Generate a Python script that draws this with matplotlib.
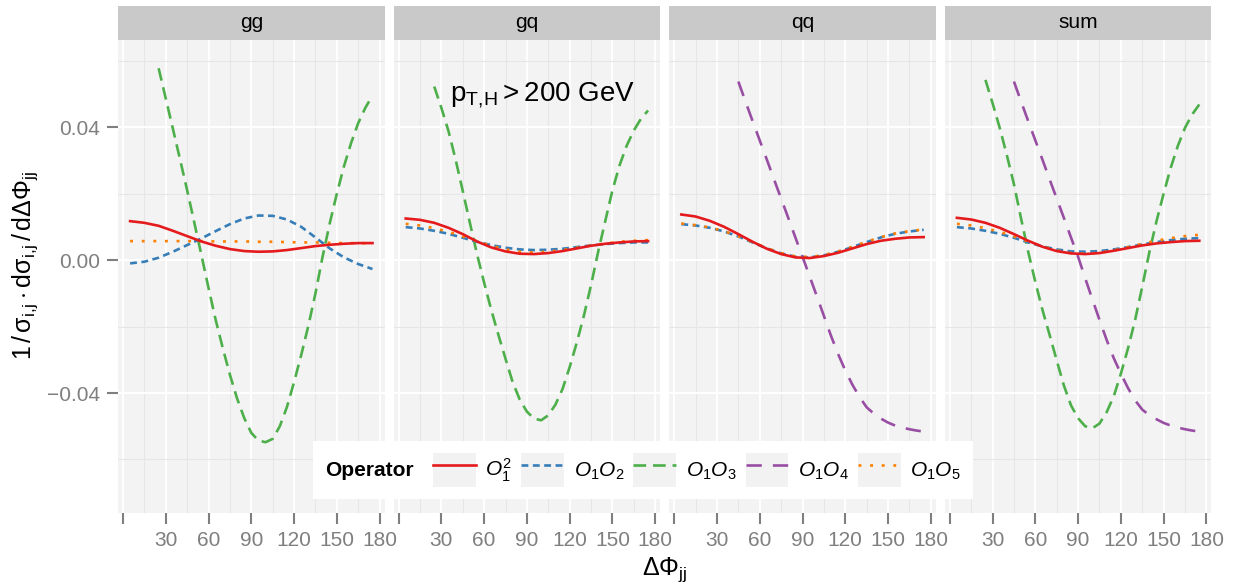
import matplotlib
matplotlib.use("Agg")
import matplotlib.pyplot as plt
from matplotlib.lines import Line2D
from matplotlib.patches import Rectangle
from matplotlib.legend_handler import HandlerLine2D
from matplotlib.offsetbox import HPacker, DrawingArea

plt.rcParams['font.family'] = ['Liberation Sans', 'DejaVu Sans']
plt.rcParams['mathtext.fontset'] = 'custom'
plt.rcParams['mathtext.rm'] = 'Liberation Sans'
plt.rcParams['mathtext.it'] = 'Liberation Sans:italic'
plt.rcParams['mathtext.bf'] = 'Liberation Sans:bold'

# bin centres of Delta Phi_jj (degrees)
phi = [5, 15, 25, 35, 45, 55, 65, 75, 85, 95, 105, 115, 125, 135, 145, 155, 165, 175]
phi_o13 = [25, 30, 35, 40, 45, 50, 55, 60, 65, 70, 75, 80, 85, 90, 95, 100,
           105, 110, 115, 120, 125, 130, 135, 140, 145, 150, 155, 160, 165, 170, 175]
phi_o14 = [45, 50, 55, 60, 65, 70, 75, 80, 85, 90, 95, 100, 105, 110, 115,
           120, 125, 130, 135, 140, 145, 150, 155, 160, 165, 170, 175]

panels = ['gg', 'gq', 'qq', 'sum']
operators = ['O11', 'O12', 'O13', 'O14', 'O15']
op_labels = [r'$O_1^2$', r'$O_1O_2$', r'$O_1O_3$', r'$O_1O_4$', r'$O_1O_5$']

# gg
gg_o11 = [0.0117, 0.0112, 0.0103, 0.0088, 0.0072, 0.0056, 0.0043, 0.0033, 0.0027,
          0.0025, 0.0026, 0.0030, 0.0036, 0.0042, 0.0046, 0.0049, 0.0051, 0.0051]
gg_o12 = [-0.0010, -0.0005, 0.0007, 0.0025, 0.0045, 0.0065, 0.0087, 0.0108, 0.0125,
          0.0134, 0.0133, 0.0122, 0.0100, 0.0068, 0.0035, 0.0008, -0.0012, -0.0027]
gg_o13 = [0.0577, 0.0486, 0.0395, 0.0303, 0.0210, 0.0113, 0.0015, -0.0084, -0.0180,
          -0.0265, -0.0345, -0.0416, -0.0475, -0.0520, -0.0543, -0.0548, -0.0538,
          -0.0500, -0.0442, -0.0367, -0.0286, -0.0198, -0.0100, 0.0010, 0.0110,
          0.0200, 0.0282, 0.0352, 0.0412, 0.0458, 0.0495]
gg_o15 = [0.0057, 0.0057, 0.0057, 0.0057, 0.0057, 0.0057, 0.0056, 0.0056, 0.0056,
          0.0055, 0.0055, 0.0054, 0.0053, 0.0053, 0.0052, 0.0051, 0.0051, 0.0050]

# gq
gq_o11 = [0.0125, 0.0121, 0.0112, 0.0097, 0.0078, 0.0056, 0.0038, 0.0026, 0.0019,
          0.0018, 0.0021, 0.0027, 0.0035, 0.0043, 0.0049, 0.0053, 0.0056, 0.0057]
gq_o12 = [0.0099, 0.0095, 0.0088, 0.0079, 0.0067, 0.0055, 0.0045, 0.0037, 0.0032,
          0.0030, 0.0031, 0.0034, 0.0039, 0.0044, 0.0048, 0.0051, 0.0053, 0.0053]
gq_o13 = [0.0522, 0.0458, 0.0388, 0.0302, 0.0208, 0.0112, 0.0018, -0.0068, -0.0150,
          -0.0225, -0.0297, -0.0367, -0.0420, -0.0456, -0.0477, -0.0482, -0.0467,
          -0.0435, -0.0388, -0.0322, -0.0248, -0.0167, -0.0075, 0.0025, 0.0118,
          0.0210, 0.0285, 0.0344, 0.0390, 0.0425, 0.0450]
gq_o15 = [0.0109, 0.0104, 0.0096, 0.0085, 0.0071, 0.0057, 0.0043, 0.0032, 0.0025,
          0.0023, 0.0025, 0.0030, 0.0037, 0.0044, 0.0050, 0.0055, 0.0058, 0.0060]

# qq
qq_o11 = [0.0137, 0.0131, 0.0118, 0.0100, 0.0078, 0.0055, 0.0034, 0.0018, 0.0008,
          0.0006, 0.0012, 0.0022, 0.0035, 0.0048, 0.0058, 0.0064, 0.0068, 0.0069]
qq_o12 = [0.0108, 0.0104, 0.0097, 0.0086, 0.0071, 0.0053, 0.0035, 0.0020, 0.0010,
          0.0008, 0.0014, 0.0025, 0.0039, 0.0054, 0.0068, 0.0079, 0.0086, 0.0091]
qq_o14 = [0.0537, 0.0477, 0.0418, 0.0360, 0.0302, 0.0243, 0.0185, 0.0127, 0.0068,
          0.0010, -0.0049, -0.0108, -0.0168, -0.0228, -0.0283, -0.0332, -0.0375,
          -0.0412, -0.0443, -0.0462, -0.0477, -0.0489, -0.0498, -0.0504, -0.0509,
          -0.0513, -0.0516]
qq_o15 = [0.0110, 0.0105, 0.0098, 0.0087, 0.0072, 0.0054, 0.0036, 0.0021, 0.0011,
          0.0009, 0.0015, 0.0026, 0.0040, 0.0055, 0.0069, 0.0080, 0.0087, 0.0092]

# sum
sum_o11 = [0.0127, 0.0122, 0.0112, 0.0097, 0.0078, 0.0058, 0.0040, 0.0027, 0.0020,
           0.0018, 0.0021, 0.0028, 0.0036, 0.0044, 0.0050, 0.0054, 0.0057, 0.0058]
sum_o12 = [0.0099, 0.0095, 0.0088, 0.0079, 0.0067, 0.0053, 0.0041, 0.0032, 0.0026,
           0.0025, 0.0027, 0.0032, 0.0039, 0.0047, 0.0054, 0.0060, 0.0064, 0.0066]
sum_o13 = [0.0542, 0.0472, 0.0398, 0.0316, 0.0228, 0.0125, 0.0025, -0.0066, -0.0150,
           -0.0225, -0.0302, -0.0377, -0.0437, -0.0476, -0.0500, -0.0506, -0.0492,
           -0.0458, -0.0410, -0.0342, -0.0266, -0.0180, -0.0080, 0.0024, 0.0117,
           0.0200, 0.0278, 0.0344, 0.0398, 0.0438, 0.0468]
sum_o14 = [0.0537, 0.0477, 0.0418, 0.0360, 0.0302, 0.0243, 0.0185, 0.0127, 0.0068,
           0.0010, -0.0055, -0.0118, -0.0180, -0.0240, -0.0295, -0.0342, -0.0385,
           -0.0422, -0.0450, -0.0467, -0.0479, -0.0490, -0.0498, -0.0504, -0.0509,
           -0.0513, -0.0516]
sum_o15 = [0.0109, 0.0104, 0.0096, 0.0085, 0.0071, 0.0056, 0.0041, 0.0029, 0.0021,
           0.0019, 0.0022, 0.0029, 0.0039, 0.0049, 0.0058, 0.0066, 0.0072, 0.0076]

series = {
    'gg': {'O11': (phi, gg_o11), 'O12': (phi, gg_o12),
           'O13': (phi_o13, gg_o13), 'O15': (phi, gg_o15)},
    'gq': {'O11': (phi, gq_o11), 'O12': (phi, gq_o12),
           'O13': (phi_o13, gq_o13), 'O15': (phi, gq_o15)},
    'qq': {'O11': (phi, qq_o11), 'O12': (phi, qq_o12),
           'O14': (phi_o14, qq_o14), 'O15': (phi, qq_o15)},
    'sum': {'O11': (phi, sum_o11), 'O12': (phi, sum_o12), 'O13': (phi_o13, sum_o13),
            'O14': (phi_o14, sum_o14), 'O15': (phi, sum_o15)},
}

x_ticks = [0, 30, 60, 90, 120, 150, 180]
x_ticklabels = ['', '30', '60', '90', '120', '150', '180']
y_ticks = [-0.04, 0.0, 0.04]
y_ticklabels = ['\u22120.04', '0.00', '0.04']

LW = 1.9
styles = {
    'O11': dict(color='#E41A1C', linestyle='-'),
    'O12': dict(color='#377EB8', linestyle=(0, (2.6, 1.7))),
    'O13': dict(color='#4DAF4A', linestyle=(0, (4.8, 2.6))),
    'O14': dict(color='#984EA3', linestyle=(0, (5.8, 4.2))),
    'O15': dict(color='#FF7F00', linestyle=(0, (1.1, 3.3))),
}
draw_order = ['O13', 'O14', 'O12', 'O15', 'O11']

GRAY = '#7F7F7F'
FS = 15
W, H = 1237, 584
fig = plt.figure(figsize=(W / 100, H / 100), dpi=100)

pan_w, pan_step = 266.6, 275.6
pan_top, pan_bot = 40, 513
strip_h = 34 / (pan_bot - pan_top)

for i, name in enumerate(panels):
    left = 118 + i * pan_step
    ax = fig.add_axes([left / W, 1 - pan_bot / H, pan_w / W, (pan_bot - pan_top) / H])
    ax.set_facecolor('#F3F3F3')
    for s in ax.spines.values():
        s.set_visible(False)

    for op in draw_order:
        if op in series[name]:
            xs, ys = series[name][op]
            ax.plot(xs, ys, lw=LW, **styles[op], zorder=3)

    ax.set_xlim(-3.5, 183.5)
    ax.set_ylim(-0.0761, 0.0662)
    ax.set_xticks(x_ticks)
    ax.set_xticklabels(x_ticklabels)
    ax.set_xticks([15, 45, 75, 105, 135, 165], minor=True)
    ax.set_yticks(y_ticks)
    ax.set_yticks([-0.06, -0.02, 0.02, 0.06], minor=True)

    ax.grid(which='major', color='white', lw=1.4, zorder=1)
    ax.grid(which='minor', color='#E6E6E6', lw=0.8, zorder=0.5)
    ax.set_axisbelow(True)
    ax.tick_params(which='major', length=7.7, width=1.5, color=GRAY,
                   labelcolor=GRAY, labelsize=FS, pad=5.5)
    ax.tick_params(which='minor', length=0)

    if i == 0:
        ax.set_yticklabels(y_ticklabels)
    else:
        ax.set_yticklabels([])
        ax.tick_params(axis='y', which='major', length=0)

    ax.add_patch(Rectangle((0, 1), 1, strip_h, transform=ax.transAxes,
                           facecolor='#C9C9C9', edgecolor='none', clip_on=False))
    ax.text(0.5, 1 + strip_h / 2, name, transform=ax.transAxes,
            ha='center', va='center', fontsize=FS)

    if name == 'gq':
        ax.text(101, 0.0497, r'$\mathrm{p}_{\mathrm{T,\!H}} > \mathrm{200\ GeV}$',
                ha='center', va='center', fontsize=20)

fig.text(25 / W, 1 - 265 / H,
         r'$1\,/\,\mathrm{\sigma}_{\mathrm{i,\!j}}\cdot\mathrm{d\sigma}_{\mathrm{i,\!j}}'
         r'\,/\,\mathrm{d}\Delta\Phi_{\mathrm{jj}}$',
         rotation=90, ha='center', va='center', fontsize=18)
fig.text(665 / W, 1 - 570 / H, r'$\Delta\Phi_{\mathrm{jj}}$',
         ha='center', va='center', fontsize=18)


class KeyHandler(HandlerLine2D):
    # grey key background like ggplot legend keys
    def create_artists(self, legend, orig_handle, xdescent, ydescent,
                       width, height, fontsize, trans):
        bg = Rectangle((-xdescent, -ydescent), width, height,
                       facecolor='#F2F2F2', edgecolor='none', transform=trans)
        arts = super().create_artists(legend, orig_handle, xdescent, ydescent,
                                      width, height, fontsize, trans)
        return [bg] + list(arts)


handles = [Line2D([], [], lw=LW, **styles[op]) for op in operators]
leg = fig.legend(handles, op_labels, ncol=5, loc='center',
                 bbox_to_anchor=(643 / W, 1 - 470 / H),
                 title='Operator', title_fontproperties={'weight': 'bold', 'size': FS},
                 fontsize=FS, frameon=True, fancybox=False, framealpha=1,
                 edgecolor='none', facecolor='white',
                 handlelength=2.05, handleheight=2.07, handletextpad=0.45,
                 columnspacing=0.45, borderpad=0.58,
                 handler_map={Line2D: KeyHandler()})

# put the legend title to the left of the keys
vbox = leg.get_children()[0]
title_box, columns = vbox.get_children()
vbox._children = [columns]
columns.align = 'center'
title_row = HPacker(children=[title_box, DrawingArea(7, 1)], sep=0, pad=0, align='center')
columns._children = [title_row] + columns.get_children()

fig.savefig('out.png', dpi=100)
